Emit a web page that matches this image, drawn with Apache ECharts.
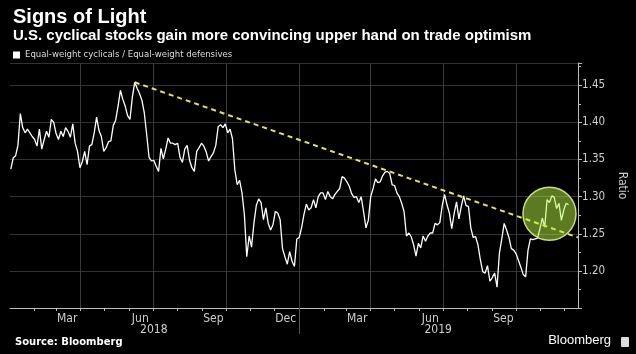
<!DOCTYPE html>
<html>
<head>
<meta charset="utf-8">
<script src="https://cdn.jsdelivr.net/npm/echarts@6/dist/echarts.min.js"></script>
<style>
  html, body { margin: 0; padding: 0; background: #000; }
  #chart { width: 636px; height: 354px; }
</style>
</head>
<body>
<div id="chart"></div>
<script>
// data: ratio read every 3 days from 2018-01-03
const startDate = '2018-01-03';
const stepDays = 3;
const ratio = [
  1.337, 1.352, 1.355, 1.369, 1.412, 1.393, 1.386, 1.391, 1.386, 1.381,
  1.377, 1.368, 1.391, 1.364, 1.377, 1.388, 1.380, 1.404, 1.400, 1.385,
  1.377, 1.388, 1.381, 1.393, 1.388, 1.380, 1.398, 1.372, 1.361, 1.339,
  1.347, 1.361, 1.343, 1.368, 1.370, 1.386, 1.407, 1.389, 1.381, 1.361,
  1.366, 1.374, 1.375, 1.396, 1.403, 1.422, 1.443, 1.431, 1.422, 1.409,
  1.404, 1.434, 1.454, 1.446, 1.439, 1.430, 1.413, 1.384, 1.353, 1.348,
  1.349, 1.341, 1.334, 1.365, 1.351, 1.364, 1.379, 1.372, 1.372, 1.370,
  1.372, 1.353, 1.346, 1.364, 1.369, 1.349, 1.339, 1.334, 1.361, 1.366,
  1.372, 1.368, 1.360, 1.348, 1.354, 1.359, 1.369, 1.394, 1.397, 1.393,
  1.398, 1.386, 1.391, 1.378, 1.336, 1.316, 1.322, 1.305, 1.276, 1.219,
  1.247, 1.232, 1.264, 1.288, 1.297, 1.292, 1.269, 1.285, 1.264, 1.255,
  1.262, 1.280, 1.278, 1.269, 1.230, 1.219, 1.209, 1.226, 1.213, 1.206,
  1.243, 1.245, 1.258, 1.276, 1.290, 1.282, 1.285, 1.296, 1.285, 1.300,
  1.305, 1.305, 1.296, 1.307, 1.300, 1.297, 1.303, 1.307, 1.311, 1.327,
  1.325, 1.320, 1.314, 1.304, 1.299, 1.300, 1.292, 1.300, 1.280, 1.258,
  1.268, 1.300, 1.311, 1.324, 1.319, 1.320, 1.328, 1.333, 1.334, 1.331,
  1.316, 1.315, 1.305, 1.300, 1.291, 1.280, 1.247, 1.251, 1.246, 1.235,
  1.220, 1.237, 1.231, 1.247, 1.240, 1.247, 1.251, 1.251, 1.264, 1.262,
  1.265, 1.288, 1.303, 1.289, 1.278, 1.257, 1.277, 1.293, 1.270, 1.287,
  1.301, 1.288, 1.287, 1.258, 1.245, 1.246, 1.235, 1.215, 1.199, 1.197,
  1.207, 1.186, 1.191, 1.197, 1.178, 1.224, 1.243, 1.264, 1.255, 1.245,
  1.230, 1.228, 1.223, 1.214, 1.205, 1.195, 1.192, 1.228, 1.243, 1.242,
  1.243, 1.244, 1.257, 1.271, 1.259, 1.296, 1.292, 1.301, 1.299, 1.284,
  1.291, 1.268, 1.282, 1.291, 1.289
];

// dashed resistance line
const trendDates = ['2018-06-08', '2019-12-18'];
const trendValues = [1.454, 1.245];

// highlighted breakout
const circleDate = '2019-11-12';
const circleValue = 1.277;

// axis
const axisStart = '2018-01-02';
const axisEnd = '2019-12-18';
const quarterStarts = ['2018-04-01', '2018-07-01', '2018-10-01', '2019-01-01', '2019-04-01', '2019-07-01', '2019-10-01'];
const monthLabelDates = ['2018-03-15', '2018-06-15', '2018-09-15', '2018-12-15', '2019-03-15', '2019-06-15', '2019-09-15'];
const monthLabels = ['Mar', 'Jun', 'Sep', 'Dec', 'Mar', 'Jun', 'Sep'];
const yearLabelDates = ['2018-07-02', '2019-06-25'];
const yearLabels = ['2018', '2019'];
const yearBreaks = ['2019-01-01'];

const DAY = 24 * 3600 * 1000;
const ts = s => {
  const p = s.split('-').map(Number);
  return Date.UTC(p[0], p[1] - 1, p[2]);
};

const start = ts(startDate);
const seriesData = ratio.map((v, i) => [start + i * stepDays * DAY, v]);

// month start ticks
const monthStarts = [];
for (let y = 2018; y <= 2019; y++) {
  for (let m = 0; m < 12; m++) {
    const t = Date.UTC(y, m, 1);
    if (t > ts(axisStart) && t < ts(axisEnd)) monthStarts.push(t);
  }
}

const monthLabelTs = monthLabelDates.map(ts);
const yearLabelTs = yearLabelDates.map(ts);

const narrow = "'Liberation Sans Narrow', 'DejaVu Sans Condensed', 'Liberation Sans', sans-serif";
const labelColor = '#cfcfcf';
const axisColor = '#bdbdbd';

const chart = echarts.init(document.getElementById('chart'));

const option = {
  backgroundColor: '#000',
  animation: false,
  title: [
    {
      text: 'Signs of Light',
      left: 8, top: 2,
      textStyle: { color: '#fff', fontSize: 20, fontWeight: 'bold', fontFamily: 'Liberation Sans' }
    },
    {
      text: 'U.S. cyclical stocks gain more convincing upper hand on trade optimism',
      left: 8, top: 23,
      textStyle: { color: '#fff', fontSize: 15, fontWeight: 'bold', fontFamily: 'Liberation Sans' }
    },
    {
      text: 'Source: Bloomberg',
      left: 10, bottom: 2,
      textStyle: { color: '#fff', fontSize: 10, fontWeight: 'bold', fontFamily: 'DejaVu Sans' }
    },
    {
      text: 'Bloomberg',
      right: 20, bottom: 2,
      textStyle: { color: '#fff', fontSize: 13, fontWeight: 'normal', fontFamily: 'Liberation Sans' }
    }
  ],
  graphic: [
    {
      type: 'rect', right: 7, bottom: 7,
      shape: { width: 8, height: 10, r: 1 },
      style: { fill: '#ddd' }
    }
  ],
  legend: {
    left: 8, top: 45,
    itemWidth: 7, itemHeight: 7, itemGap: 4,
    icon: 'rect',
    textStyle: { color: '#ddd', fontSize: 9.5, fontFamily: narrow },
    data: ['Equal-weight cyclicals / Equal-weight defensives']
  },
  grid: { left: 10, right: 52, top: 63, bottom: 46 },
  xAxis: [
    {
      type: 'value',
      min: ts(axisStart), max: ts(axisEnd),
      position: 'bottom',
      axisLine: { show: true, onZero: false, lineStyle: { color: axisColor } },
      axisTick: { show: false, customValues: quarterStarts.map(ts) },
      splitLine: { show: true, lineStyle: { color: '#3a3a3a', width: 1 } },
      axisLabel: {
        customValues: monthLabelTs,
        color: labelColor, fontSize: 12, fontFamily: narrow, margin: 5,
        formatter: v => {
          const k = monthLabelTs.indexOf(v);
          return k >= 0 ? monthLabels[k] : '';
        }
      }
    },
    {
      type: 'value',
      min: ts(axisStart), max: ts(axisEnd),
      position: 'bottom',
      axisLine: { show: false, onZero: false },
      axisTick: { show: true, length: 3, customValues: monthStarts, lineStyle: { color: axisColor } },
      splitLine: { show: false },
      axisLabel: { show: false }
    },
    {
      type: 'value',
      min: ts(axisStart), max: ts(axisEnd),
      position: 'bottom',
      axisLine: { show: false, onZero: false },
      axisTick: { show: true, length: 26, customValues: yearBreaks.map(ts), lineStyle: { color: '#555' } },
      splitLine: { show: false },
      axisLabel: {
        customValues: yearLabelTs,
        color: labelColor, fontSize: 12, fontFamily: narrow, margin: 16,
        formatter: v => {
          const k = yearLabelTs.indexOf(v);
          return k >= 0 ? yearLabels[k] : '';
        }
      }
    }
  ],
  yAxis: {
    type: 'value',
    position: 'right',
    min: 1.15, max: 1.48, interval: 0.05,
    name: 'Ratio',
    nameLocation: 'middle',
    nameRotate: -90,
    nameGap: 30,
    nameTextStyle: { color: labelColor, fontSize: 12, fontFamily: narrow },
    axisLine: { show: true, lineStyle: { color: axisColor } },
    axisTick: { show: true, length: 4, lineStyle: { color: axisColor } },
    minorTick: { show: true, splitNumber: 2, length: 3, lineStyle: { color: axisColor } },
    splitLine: { show: true, lineStyle: { color: '#333' } },
    axisLabel: {
      color: labelColor, fontSize: 11.5, fontFamily: narrow, margin: 4,
      formatter: v => (v < 1.175 || v > 1.46 ? '' : v.toFixed(2))
    }
  },
  series: [
    {
      name: 'Equal-weight cyclicals / Equal-weight defensives',
      type: 'line',
      data: seriesData,
      showSymbol: false,
      symbol: 'none',
      lineStyle: { color: '#fff', width: 1.3 },
      itemStyle: { color: '#fff' }
    },
    {
      name: 'trend',
      type: 'line',
      data: trendDates.map((d, i) => [ts(d), trendValues[i]]),
      showSymbol: false,
      symbol: 'none',
      lineStyle: { color: '#e3e35b', width: 2, type: [5, 4] },
      markPoint: {
        silent: true,
        symbol: 'circle',
        symbolSize: 53,
        label: { show: false },
        itemStyle: { color: 'rgba(182,244,68,0.5)', borderColor: '#c8e07e', borderWidth: 1.5 },
        data: [{ coord: [ts(circleDate), circleValue] }]
      }
    }
  ]
};

chart.setOption(option);
</script>
</body>
</html>
